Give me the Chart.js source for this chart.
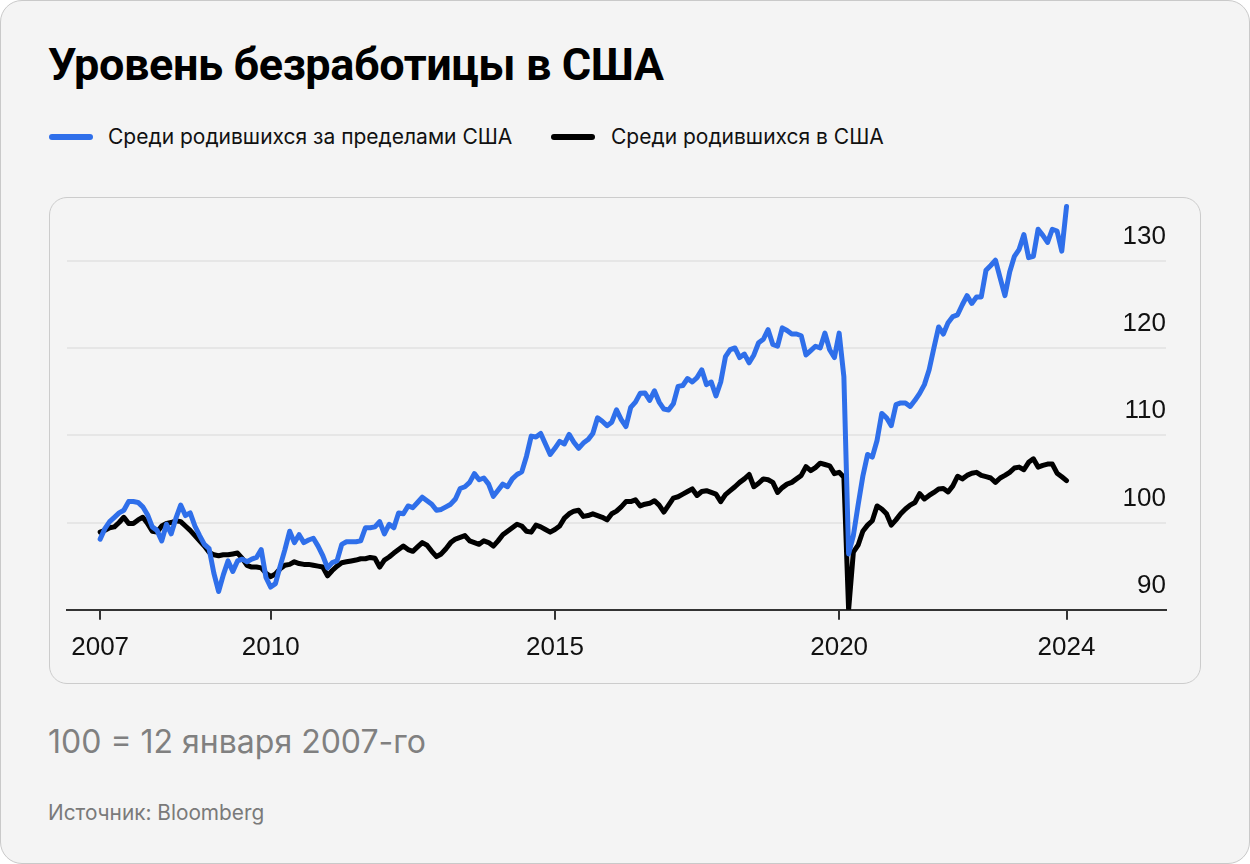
<!DOCTYPE html>
<html lang="ru">
<head>
<meta charset="utf-8">
<script src="https://cdn.jsdelivr.net/npm/chart.js@4.4.1/dist/chart.umd.min.js"></script>
<style>
  html, body { margin: 0; padding: 0; background: #fff; }
  body { width: 1250px; height: 864px; position: relative; overflow: hidden; }
  .card {
    position: absolute; left: 0; top: 0; width: 1250px; height: 864px;
    box-sizing: border-box; background: #f4f4f4;
    border: 1px solid #c9c9c9; border-radius: 22px;
  }
  .title {
    position: absolute; left: 48px; top: 42px; margin: 0;
    font: 700 45px/1 Roboto, "Liberation Sans", sans-serif;
    letter-spacing: -0.4px; color: #000;
  }
  .legend-line { position: absolute; top: 134px; width: 44px; height: 6px; border-radius: 3px; }
  .legend-text {
    position: absolute; top: 126px;
    font: 400 21px/1 Inter, "Noto Sans", sans-serif; color: #111;
  }
  .box {
    position: absolute; left: 49px; top: 197px; width: 1152px; height: 487px;
    box-sizing: border-box; border: 1px solid #cccccc; border-radius: 18px;
  }
  .box canvas { position: absolute; left: 0; top: -14px; }
  .note {
    position: absolute; left: 48px; top: 726px;
    font: 400 32px/1 Inter, "Noto Sans", sans-serif; color: #808080;
  }
  .source {
    position: absolute; left: 48px; top: 803px;
    font: 400 20.8px/1 Inter, "Noto Sans", sans-serif; color: #7a7a7a;
  }
</style>
</head>
<body>
<div class="card"></div>
<h1 class="title">Уровень безработицы в США</h1>

<div class="legend-line" style="left:49px;background:#2f6fea"></div>
<div class="legend-text" style="left:108px">Среди родившихся за пределами США</div>
<div class="legend-line" style="left:551px;background:#000"></div>
<div class="legend-text" style="left:611px">Среди родившихся в США</div>

<div class="box"><canvas id="chart" width="1150" height="499"></canvas></div>

<div class="note">100 = 12 января 2007-го</div>
<div class="source">Источник: Bloomberg</div>

<script>
// monthly index, January 2007 = 100; one row per year
const foreignBorn = [
  98.1, 99.3, 100.1, 100.6, 101.1, 101.4, 102.4, 102.4, 102.3, 101.8, 100.9, 99.5,
  99.1, 97.9, 99.8, 98.7, 100.5, 102.0, 100.8, 101.1, 99.6, 98.5, 97.5, 97.0,
  94.2, 92.1, 94.0, 95.6, 94.4, 95.6, 95.8, 95.5, 95.8, 96.0, 96.9, 93.7,
  92.6, 93.0, 95.0, 96.9, 99.0, 97.7, 98.6, 97.7, 98.0, 98.2, 97.3, 96.2,
  94.8, 95.4, 95.6, 97.5, 97.8, 97.8, 97.8, 97.9, 99.4, 99.4, 99.5, 100.1,
  98.7, 99.8, 99.4, 101.1, 101.0, 101.9, 101.7, 102.3, 102.9, 102.5, 102.1, 101.4,
  101.5, 101.8, 102.1, 102.7, 103.9, 104.1, 104.6, 105.6, 104.9, 105.1, 104.4, 103.0,
  103.7, 104.4, 104.1, 105.0, 105.5, 105.8, 107.6, 109.9, 109.8, 110.2, 109.0, 107.8,
  108.5, 109.3, 109.0, 110.1, 109.2, 108.5, 109.1, 109.5, 110.2, 112.0, 111.6, 111.1,
  111.5, 112.9, 111.8, 111.0, 113.2, 113.8, 114.8, 114.85, 114.0, 115.1, 113.8, 113.0,
  112.9, 113.6, 115.6, 115.7, 116.5, 116.1, 116.6, 117.5, 115.8, 116.1, 114.5, 116.1,
  119.0, 119.8, 120.0, 118.9, 119.3, 118.3, 119.2, 120.6, 121.0, 122.1, 120.4, 120.2,
  122.3, 122.0, 121.6, 121.6, 121.4, 119.2, 119.7, 120.2, 120.0, 121.7, 119.8, 118.9,
  121.7, 116.7, 96.4, 98.5, 102.0, 105.3, 107.8, 107.5, 109.4, 112.5, 112.0, 111.1,
  113.5, 113.7, 113.7, 113.3, 114.0, 114.8, 115.8, 117.5, 120.0, 122.4, 121.6, 122.9,
  123.6, 123.8, 124.95, 126.0, 125.1, 125.85, 125.85, 128.9, 129.45, 130.05, 128.0, 126.0,
  128.7, 130.5, 131.3, 133.0, 130.35, 130.5, 133.6, 132.9, 132.1, 133.6, 133.4, 131.1,
  136.2
]

const nativeBorn = [
  98.9, 99.1, 99.4, 99.5, 100.0, 100.6, 99.9, 99.9, 100.3, 100.6, 99.9, 99.0,
  98.9, 99.6, 99.9, 100.0, 100.2, 100.1, 99.6, 99.1, 98.5, 97.9, 97.3, 96.6,
  96.3, 96.2, 96.3, 96.3, 96.4, 96.5, 95.9, 95.1, 94.9, 94.9, 94.8, 94.2,
  93.8, 94.1, 94.7, 95.1, 95.2, 95.5, 95.3, 95.2, 95.2, 95.1, 95.0, 94.9,
  93.9, 94.5, 95.0, 95.4, 95.5, 95.6, 95.7, 95.85, 95.85, 96.0, 95.9, 94.9,
  95.7, 96.05, 96.5, 96.9, 97.3, 96.9, 96.7, 97.2, 97.7, 97.4, 96.7, 96.1,
  96.4, 97.0, 97.7, 98.1, 98.3, 98.5, 97.9, 97.7, 97.5, 97.9, 97.7, 97.3,
  97.9, 98.6, 99.0, 99.4, 99.8, 99.6, 99.0, 98.9, 99.7, 99.5, 99.2, 98.9,
  99.2, 99.6, 100.5, 101.0, 101.3, 101.4, 100.7, 100.8, 101.0, 100.8, 100.6, 100.3,
  101.0, 101.3, 101.8, 102.4, 102.4, 102.6, 101.9, 102.1, 102.2, 102.5, 102.0, 101.2,
  102.0, 102.8, 102.95, 103.25, 103.55, 103.85, 103.1, 103.55, 103.65, 103.45, 103.25, 102.4,
  103.2, 103.65, 104.1, 104.6, 105.0, 105.5, 104.1, 104.5, 105.0, 104.9, 104.6, 103.45,
  104.0, 104.4, 104.6, 105.0, 105.4, 106.4, 105.95, 106.3, 106.8, 106.65, 106.5, 105.6,
  105.75, 105.2, 90.0, 96.6, 97.4, 99.0, 99.7, 100.2, 101.9, 101.55, 101.0, 99.7,
  100.3, 101.0, 101.55, 102.0, 102.3, 103.3, 102.7, 103.1, 103.45, 103.85, 103.9, 103.5,
  104.2, 105.3, 105.0, 105.4, 105.65, 105.75, 105.4, 105.25, 105.1, 104.6, 105.1, 105.4,
  105.75, 106.25, 106.35, 106.05, 106.9, 107.3, 106.35, 106.55, 106.7, 106.7, 105.65, 105.25,
  104.8
]

const startYear = 2007
const yearTicks = [2007, 2010, 2015, 2020, 2024]
const yTicks = [90, 100, 110, 120, 130]

const toPoints = (values) => values.map((v, i) => ({ x: i, y: v }))
const tickFont = { family: "'Liberation Sans', Arial, sans-serif", size: 26 }

new Chart(document.getElementById("chart"), {
  type: "line",
  data: {
    datasets: [
      { label: "Среди родившихся за пределами США", data: toPoints(foreignBorn), borderColor: "#2f6fea" },
      { label: "Среди родившихся в США", data: toPoints(nativeBorn), borderColor: "#000000" },
    ],
  },
  options: {
    responsive: false,
    animation: false,
    layout: { padding: { left: 17, right: 34, top: 0, bottom: 8 } },
    elements: {
      line: { borderWidth: 5, tension: 0, borderJoinStyle: "round", borderCapStyle: "round" },
      point: { radius: 0, hoverRadius: 0 },
    },
    plugins: { legend: { display: false }, tooltip: { enabled: false } },
    scales: {
      x: {
        type: "linear",
        min: -7,
        max: 225,
        afterBuildTicks: (scale) => {
          scale.ticks = yearTicks.map(y => ({ value: (y - startYear) * 12 }))
        },
        ticks: {
          callback: (v) => String(startYear + Math.round(v / 12)),
          color: "#111",
          font: tickFont,
          padding: 12,
          maxRotation: 0,
          autoSkip: false,
        },
        grid: { drawOnChartArea: false, drawTicks: true, tickLength: 10, color: "#333", lineWidth: 2 },
        border: { display: true, color: "#333", width: 2 },
      },
      y: {
        position: "right",
        min: 90,
        max: 137,
        afterBuildTicks: (scale) => {
          scale.ticks = yTicks.map(v => ({ value: v }))
        },
        ticks: {
          mirror: true,
          padding: 0,
          labelOffset: -24,
          color: "#111",
          font: tickFont,
        },
        grid: {
          drawTicks: false,
          lineWidth: 2,
          color: (ctx) => ctx.tick && ctx.tick.value === 90 ? "rgba(0,0,0,0)" : "#e6e6e6",
        },
        border: { display: false },
      },
    },
  },
})
</script>
</body>
</html>
